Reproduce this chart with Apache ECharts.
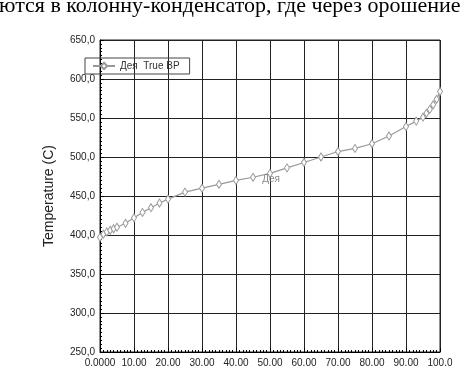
<!DOCTYPE html>
<html>
<head>
<meta charset="utf-8">
<script src="https://cdn.jsdelivr.net/npm/echarts@6/dist/echarts.min.js"></script>
<style>
html,body{margin:0;padding:0;background:#fff;}
#c{width:465px;height:368px;}
</style>
</head>
<body>
<div id="c"></div>
<script>
const headerText = 'ются в колонну-конденсатор, где через орошение';
const seriesName = 'Дея  True BP';
const curveLabel = 'Дея';
const yAxisTitle = 'Temperature (C)';
const volPercent = [0, 1, 2, 3, 4, 5, 7.5, 10, 12.5, 15, 17.5, 20, 25, 30, 35, 40, 45, 50, 55, 60, 65, 70, 75, 80, 85, 90, 93, 95, 96, 97, 98, 99, 100];
const temperature = [397, 401, 404, 406, 408, 410, 415, 422, 429, 435, 441, 446, 455, 460, 465, 470, 474, 479, 486, 493, 500, 507, 511, 517, 527, 539, 546, 551, 556, 561, 567, 574, 584];
const labelAtX = 50;
const xTickLabels = {0: '0.0000', 10: '10.00', 20: '20.00', 30: '30.00', 40: '40.00', 50: '50.00', 60: '60.00', 70: '70.00', 80: '80.00', 90: '90.00', 100: '100.0'};

const chart = echarts.init(document.getElementById('c'));
const data = volPercent.map((x, i) => {
  const item = { value: [x, temperature[i]] };
  if (x === labelAtX) {
    item.label = { show: true, formatter: curveLabel, position: 'inside', offset: [1, 6], color: '#888', fontSize: 10, fontFamily: 'Arial' };
  }
  return item;
});

chart.setOption({
  animation: false,
  graphic: [{
    type: 'text', left: -1, top: -5,
    style: { text: headerText, font: '22px "Liberation Serif"', fill: '#000' }
  }],
  grid: { left: 100, right: 25, top: 40, bottom: 15, show: true, borderColor: '#222', borderWidth: 1 },
  legend: {
    left: 85, top: 58,
    padding: [3, 10, 3, 7],
    borderColor: '#444', borderWidth: 1,
    itemWidth: 22, itemHeight: 8, itemGap: 4,
    textStyle: { fontSize: 10, fontFamily: 'Arial', color: '#333' },
    data: [seriesName]
  },
  xAxis: {
    type: 'value', min: 0, max: 100, interval: 10,
    axisLine: { show: true, lineStyle: { color: '#000', width: 1 } },
    axisTick: { show: true, inside: true, length: 4, lineStyle: { color: '#000' } },
    minorTick: { show: true, splitNumber: 10, length: 2, lineStyle: { color: '#000' } },
    splitLine: { show: true, lineStyle: { color: '#222', width: 1 } },
    axisLabel: { fontSize: 10, fontFamily: 'Arial', color: '#222', margin: 6, formatter: v => xTickLabels[v] }
  },
  yAxis: {
    type: 'value', min: 250, max: 650, interval: 50,
    name: yAxisTitle, nameLocation: 'middle', nameGap: 44, nameRotate: 90,
    nameTextStyle: { fontSize: 14, fontFamily: 'Arial', color: '#222' },
    axisLine: { show: true, lineStyle: { color: '#000', width: 1 } },
    axisTick: { show: true, inside: true, length: 4, lineStyle: { color: '#000' } },
    minorTick: { show: true, splitNumber: 10, length: 2, lineStyle: { color: '#000' } },
    splitLine: { show: true, lineStyle: { color: '#222', width: 1 } },
    axisLabel: { fontSize: 10, fontFamily: 'Arial', color: '#222', margin: 5, formatter: v => v.toFixed(1).replace('.', ',') }
  },
  series: [{
    name: seriesName,
    type: 'line',
    data: data,
    symbol: 'diamond', symbolSize: [5, 8],
    itemStyle: { color: '#fff', borderColor: '#999', borderWidth: 1 },
    lineStyle: { color: '#999', width: 1.2 },
    emphasis: { disabled: true }
  }]
});
</script>
</body>
</html>
